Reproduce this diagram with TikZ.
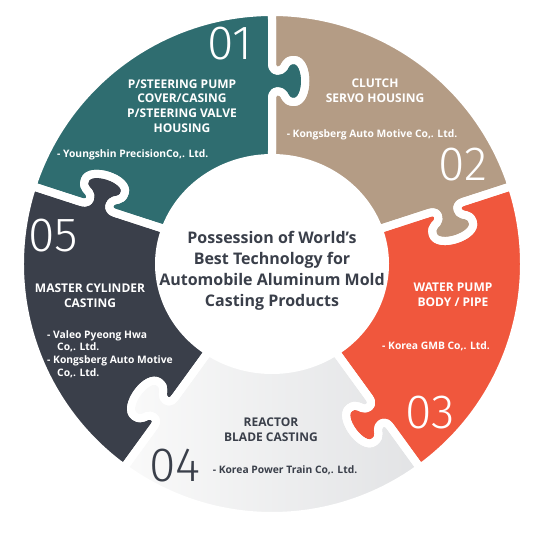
\documentclass[tikz,border=0pt]{standalone}
\usepackage{fontspec}
\setmainfont{Open Sans}
\IfFontExistsTF{Fira Sans Light}{\newfontfamily\numfont{Fira Sans Light}}{\newfontfamily\numfont{Fira Sans}}
\definecolor{cteal}{HTML}{2F6D70}
\definecolor{ctan}{HTML}{B49C85}
\definecolor{cred}{HTML}{F0573D}
\definecolor{cdark}{HTML}{3A3F4A}
\definecolor{cgrayL}{HTML}{FAFAFA}
\definecolor{cgrayR}{HTML}{E2E3E5}
% #1 cw boundary, #2 ccw boundary, #3/#4 outer arc angles, #5/#6 inner arc angles
\newcommand\piecepath[6]{(b#1-inA) -- (b#1-p0)
  .. controls (b#1-a1) and (b#1-a2) .. (b#1-n1)
  .. controls (b#1-b1) and (b#1-b2) .. (b#1-k1)
  .. controls (b#1-t1) and (b#1-t2) .. (b#1-k2)
  .. controls (b#1-d1) and (b#1-d2) .. (b#1-n2)
  .. controls (b#1-e1) and (b#1-e2) .. (b#1-p3)
  -- (b#1-outA) .. controls (b#1-out) .. (b#1-oL)
  arc[start angle=#3, end angle=#4, radius=252pt]
  .. controls (b#2-out) .. (b#2-outA) -- (b#2-p3)
  .. controls (b#2-e2) and (b#2-e1) .. (b#2-n2)
  .. controls (b#2-d2) and (b#2-d1) .. (b#2-k2)
  .. controls (b#2-t2) and (b#2-t1) .. (b#2-k1)
  .. controls (b#2-b2) and (b#2-b1) .. (b#2-n1)
  .. controls (b#2-a2) and (b#2-a1) .. (b#2-p0)
  -- (b#2-inA) .. controls (b#2-in) .. (b#2-iR)
  arc[start angle=#5, end angle=#6, x radius=113pt, y radius=106pt]
  .. controls (b#1-in) .. (b#1-inA) -- cycle}
\begin{document}
\begin{tikzpicture}[x=1pt,y=1pt,
  gapline/.style={draw=white, line width=8pt, line join=round},
  num/.style={font=\numfont\fontsize{48}{48}\selectfont, text=white, inner sep=0pt},
  ttl/.style={font=\bfseries\fontsize{12}{14.7}\selectfont, text=white, align=center, inner sep=0pt},
  co/.style={font=\bfseries\fontsize{10.3}{12.7}\selectfont, text=white, inner sep=0pt},
  ctr/.style={font=\bfseries\fontsize{16}{20.8}\selectfont, text=cdark, align=center, inner sep=0pt}]
\useasboundingbox (0,0) rectangle (543,540);
\fill[white] (0,0) rectangle (543,540);
\def\m{183}
\foreach \b/\ang/\ph/\d in {1/90/90/106, 2/18/19.10/112.27, 3/-54/-55.72/108.27, 4/234/235.72/108.27, 5/162/160.90/112.27}{
  \begin{scope}[shift={(272,276)},rotate=\ang]
    \coordinate (b\b-in) at (\d,0);
    \coordinate (b\b-inA) at ({\d+8},0);
    \coordinate (b\b-out) at (252,0);
    \coordinate (b\b-outA) at (244,0);
    \coordinate (b\b-oL) at (251.87,8);
    \coordinate (b\b-oR) at (251.87,-8);
    \coordinate (b\b-p0) at ({\m-18},0);
    \coordinate (b\b-a1) at ({\m-11},0);
    \coordinate (b\b-a2) at ({\m-9},-4);
    \coordinate (b\b-n1) at ({\m-11},-9);
    \coordinate (b\b-b1) at ({\m-13},-14);
    \coordinate (b\b-b2) at ({\m-21},-12);
    \coordinate (b\b-k1) at ({\m-21},-22);
    \coordinate (b\b-t1) at ({\m-21},-37);
    \coordinate (b\b-t2) at ({\m+21},-37);
    \coordinate (b\b-k2) at ({\m+21},-22);
    \coordinate (b\b-d1) at ({\m+21},-12);
    \coordinate (b\b-d2) at ({\m+13},-14);
    \coordinate (b\b-n2) at ({\m+11},-9);
    \coordinate (b\b-e1) at ({\m+9},-4);
    \coordinate (b\b-e2) at ({\m+11},0);
    \coordinate (b\b-p3) at ({\m+18},0);
  \end{scope}
  \coordinate (b\b-iL) at ({272+113*cos(\ph+4.15)},{276+106*sin(\ph+4.15)});
  \coordinate (b\b-iR) at ({272+113*cos(\ph-4.15)},{276+106*sin(\ph-4.15)});
}
% fills
\fill[cteal] \piecepath{1}{5}{91.819}{160.181}{156.75}{94.15};
\fill[ctan] \piecepath{2}{1}{19.819}{88.181}{85.85}{23.25};
\fill[cred] \piecepath{3}{2}{-52.181}{16.181}{14.95}{-51.57};
\shade[left color=cgrayL,right color=cgrayR] \piecepath{4}{3}{-124.181}{-55.819}{-59.87}{-120.13};
\fill[cdark] \piecepath{5}{4}{163.819}{232.181}{231.57}{165.05};
% gaps
\path[gapline] \piecepath{1}{5}{91.819}{160.181}{156.75}{94.15};
\path[gapline] \piecepath{2}{1}{19.819}{88.181}{85.85}{23.25};
\path[gapline] \piecepath{3}{2}{-52.181}{16.181}{14.95}{-51.57};
\path[gapline] \piecepath{4}{3}{-124.181}{-55.819}{-59.87}{-120.13};
\path[gapline] \piecepath{5}{4}{163.819}{232.181}{231.57}{165.05};
% 01
\node[num] (n1) at (230,496.5) {01};
\node[ttl] (t1) at (182,434) {P/STEERING PUMP\\COVER/CASING\\P/STEERING VALVE\\HOUSING};
\node[co,anchor=west] (c1) at (57,385) {- Youngshin PrecisionCo,. Ltd.};
% 02
\node[ttl] (t2) at (375,449.5) {CLUTCH\\SERVO HOUSING};
\node[co] (c2) at (372,405) {- Kongsberg Auto Motive Co,. Ltd.};
\node[num] (n2) at (463,375) {02};
% 03
\node[ttl] (t3) at (453,245.5) {WATER PUMP\\BODY / PIPE};
\node[co] (c3) at (436,194) {- Korea GMB Co,. Ltd.};
\node[num] (n3) at (430,127) {03};
% 04
\node[ttl,text=cdark] (t4) at (271,110.5) {REACTOR\\BLADE CASTING};
\node[num,text=cdark] (n4) at (175,74) {04};
\node[co,text=cdark] (c4) at (285,70) {- Korea Power Train Co,. Ltd.};
% 05
\node[num] (n5) at (53,304) {05};
\node[ttl] (t5) at (90,244.5) {MASTER CYLINDER\\CASTING};
\node[co,anchor=west,align=left] (c5) at (47,186) {- Valeo Pyeong Hwa\\\hspace*{10pt}Co,. Ltd.\\- Kongsberg Auto Motive\\\hspace*{10pt}Co,. Ltd.};
% center
\node[ctr] (ct) at (272,269) {Possession of World’s\\Best Technology for\\Automobile Aluminum Mold\\Casting Products};
\end{tikzpicture}
\end{document}
